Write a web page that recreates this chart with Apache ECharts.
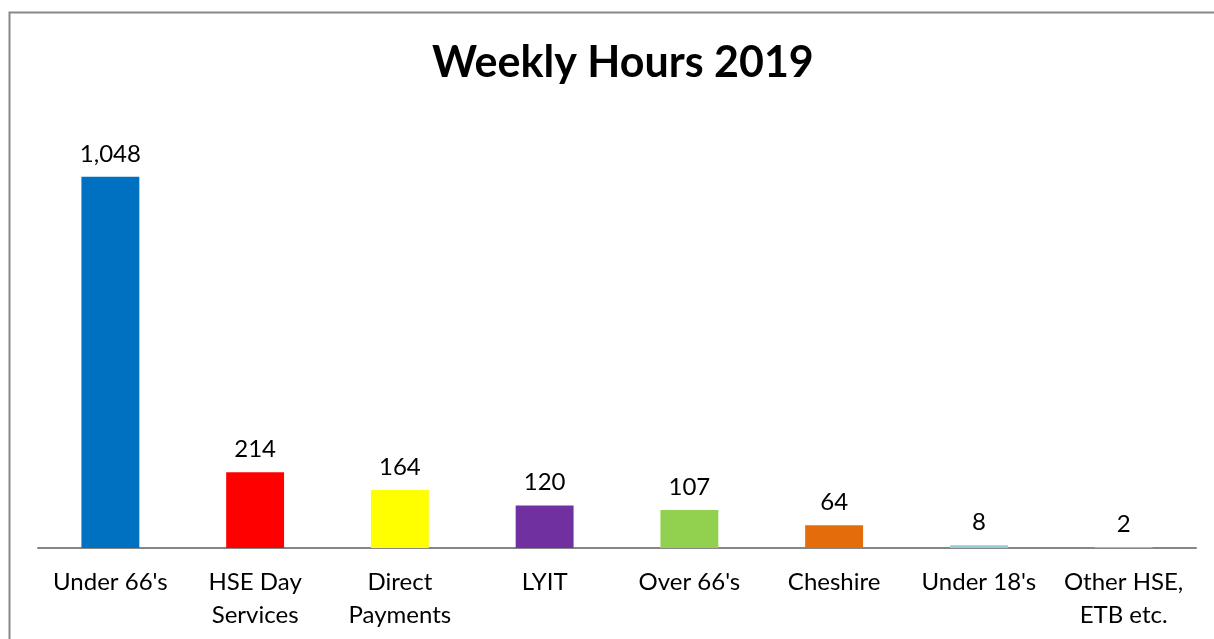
<!DOCTYPE html>
<html>
<head>
<meta charset="utf-8">
<script src="https://cdn.jsdelivr.net/npm/echarts@6/dist/echarts.min.js"></script>
<style>
  html, body { margin: 0; padding: 0; background: #fff; }
  #chart { width: 1214px; height: 639px; }
</style>
</head>
<body>
<div id="chart"></div>
<script>
// data
var categories = ["Under 66's", "HSE Day\nServices", "Direct\nPayments", "LYIT", "Over 66's", "Cheshire", "Under 18's", "Other HSE,\nETB etc."];
var hours = [1048, 214, 164, 120, 107, 64, 8, 2];
var barColors = ["#0070C0", "#FF0000", "#FFFF00", "#7030A0", "#92D050", "#E46C0A", "#92CDDC", "#C0C0C0"];

var font = "Lato";
var chart = echarts.init(document.getElementById("chart"));

chart.setOption({
  animation: false,
  backgroundColor: "#fff",
  graphic: [{
    type: "rect",
    shape: { x: 9.5, y: 12.5, width: 1300, height: 700 },
    style: { fill: "none", stroke: "#888888", lineWidth: 2 },
    silent: true
  }],
  title: {
    text: "Weekly Hours 2019",
    left: 427,
    top: 37,
    textStyle: { fontFamily: font, fontSize: 43, fontWeight: "bold", color: "#000" }
  },
  grid: { left: 38, right: 18, top: 123, bottom: 91, containLabel: false },
  xAxis: {
    type: "category",
    data: categories,
    axisLine: { lineStyle: { color: "#868686", width: 2 } },
    axisTick: { show: false },
    axisLabel: {
      interval: 0,
      margin: 18,
      fontFamily: font,
      fontSize: 24,
      lineHeight: 33,
      color: "#000"
    }
  },
  yAxis: {
    type: "value",
    min: 0,
    max: 1200,
    show: false,
    splitLine: { show: false }
  },
  series: [{
    type: "bar",
    barWidth: "40%",
    data: hours.map(function (v, i) {
      return { value: v, itemStyle: { color: barColors[i] } };
    }),
    label: {
      show: true,
      position: "top",
      distance: 11,
      fontFamily: font,
      fontSize: 24,
      color: "#000",
      formatter: function (p) { return p.value.toLocaleString("en-US"); }
    }
  }]
});
</script>
</body>
</html>
